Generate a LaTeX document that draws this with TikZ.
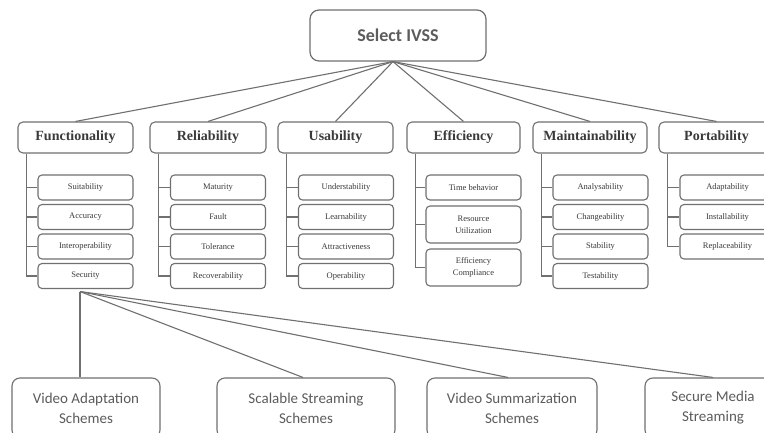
\documentclass[tikz,border=0pt]{standalone}
\usepackage{fontspec}
\setmainfont{Liberation Serif}
\newfontfamily\calibri{Carlito}
\usepackage{tikz}
\usetikzlibrary{positioning}
\definecolor{boxline}{HTML}{707070}
\definecolor{labeltext}{HTML}{3A3A3A}
\definecolor{softtext}{HTML}{5C5C5C}

\begin{document}
\begin{tikzpicture}[x=1pt, y=-1pt,
    link/.style={draw=boxline, line width=1.1pt},
    topbox/.style={draw=boxline, line width=1.2pt, rounded corners=9pt, minimum width=176pt, minimum height=51pt, inner sep=0pt, text=softtext, font=\calibri\bfseries\fontsize{18}{20}\selectfont},
    catbox/.style={draw=boxline, line width=1.1pt, rounded corners=5pt, minimum width=115pt, minimum height=31pt, inner sep=0pt, text=labeltext, font=\rmfamily\bfseries\fontsize{14}{16}\selectfont},
    subbox/.style={draw=boxline, line width=1.1pt, rounded corners=4pt, minimum width=95pt, minimum height=25pt, inner sep=0pt, align=center, text=labeltext, font=\rmfamily\fontsize{8.5}{12}\selectfont},
    lowbox/.style={draw=boxline, line width=1.1pt, rounded corners=8pt, minimum height=60pt, inner sep=0pt, align=center, text=softtext, font=\calibri\fontsize{15}{20}\selectfont}]
      \clip (0,0) rectangle (764,433);
      \fill[white] (0,0) rectangle (764,433);

      \node[topbox] (top) at (398,35.5) {Select IVSS};

      \node[catbox] (func) at (75.5,137.5) {Functionality};
      \node[catbox, minimum width=116pt] (rel) at (208,137.5) {Reliability};
      \node[catbox] (usa) at (335.5,137.5) {Usability};
      \node[catbox, minimum width=113pt] (eff) at (463.5,137.5) {Efficiency};
      \node[catbox, minimum width=114pt] (main) at (590,137.5) {Maintainability};
      \node[catbox] (port) at (716.5,137.5) {Portability};

      \foreach \cat in {func, rel, usa, eff, main, port}
        \draw[link] ([xshift=-5pt]top.south) -- (\cat.north);

      \node[subbox] (func1) at (85.5,187.5) {Suitability};
      \node[subbox] (func2) at (85.5,217) {Accuracy};
      \node[subbox] (func3) at (85.5,246.5) {Interoperability};
      \node[subbox] (func4) at (85.5,276) {Security};

      \node[subbox] (rel1) at (218,187.5) {Maturity};
      \node[subbox] (rel2) at (218,217) {Fault};
      \node[subbox] (rel3) at (218,246.5) {Tolerance};
      \node[subbox] (rel4) at (218,276) {Recoverability};

      \node[subbox] (usa1) at (346,187.5) {Understability};
      \node[subbox] (usa2) at (346,217) {Learnability};
      \node[subbox] (usa3) at (346,246.5) {Attractiveness};
      \node[subbox] (usa4) at (346,276) {Operability};

      \node[subbox] (eff1) at (473.5,187.5) {Time behavior};
      \node[subbox, minimum height=37pt] (eff2) at (473.5,224.5) {Resource\\Utilization};
      \node[subbox, minimum height=37pt] (eff3) at (473.5,267.5) {Efficiency\\Compliance};

      \node[subbox] (main1) at (600.5,187.5) {Analysability};
      \node[subbox] (main2) at (600.5,217) {Changeability};
      \node[subbox] (main3) at (600.5,246.5) {Stability};
      \node[subbox] (main4) at (600.5,276) {Testability};

      \node[subbox] (port1) at (727.5,187.5) {Adaptability};
      \node[subbox] (port2) at (727.5,217) {Installability};
      \node[subbox] (port3) at (727.5,246.5) {Replaceability};

      \foreach \cat/\last in {func/4, rel/4, usa/4, eff/3, main/4, port/3} {
        \coordinate (\cat v) at ([xshift=9pt]\cat.south west);
        \draw[link] (\cat v) |- (\cat\last.west);
        \foreach \i in {1,...,\last}
          \draw[link] (\cat\i.west -| \cat v) -- (\cat\i.west);
      }

      \node[lowbox, minimum width=148pt] (adapt) at (86,408) {Video Adaptation\\Schemes};
      \node[lowbox, minimum width=178pt] (scal) at (306,408) {Scalable Streaming\\Schemes};
      \node[lowbox, minimum width=170pt] (summ) at (512,408) {Video Summarization\\Schemes};
      \node[lowbox, minimum width=136pt] (secure) at (713,408) {Secure Media\\Streaming};

      \coordinate (sec) at ([xshift=-5.5pt, yshift=-2.5pt]func4.south);
      \draw[link] (sec) -- (sec |- adapt.north);
      \draw[link] (sec) -- ([xshift=-3pt]scal.north);
      \draw[link] (sec) -- ([xshift=-4pt]summ.north);
      \draw[link] (sec) -- (secure.north);
\end{tikzpicture}
\end{document}
